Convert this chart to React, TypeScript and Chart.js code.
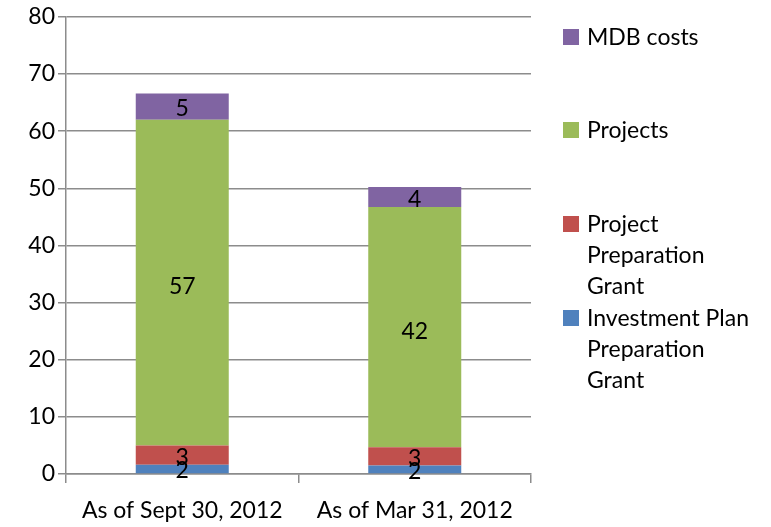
import React, { useEffect, useRef } from "react";
import { Chart, registerables } from "chart.js";

Chart.register(...registerables);

const categories = ["As of Sept 30, 2012", "As of Mar 31, 2012"];
const investmentPlanPrep = [1.6, 1.5];
const projectPrep = [3.4, 3.2];
const projects = [57.0, 42.0];
const mdbCosts = [4.6, 3.5];
const yTicks = [0, 10, 20, 30, 40, 50, 60, 70, 80];

const FONT = "Lato, 'Open Sans', sans-serif";

const legendItems = [
  { lines: ["MDB costs"], color: "#8064A2", y: 37 },
  { lines: ["Projects"], color: "#9BBB59", y: 130 },
  { lines: ["Project", "Preparation", "Grant"], color: "#C0504D", y: 224 },
  { lines: ["Investment Plan", "Preparation", "Grant"], color: "#4F81BD", y: 318 },
];

const labelPlugin = {
  id: "segLabels",
  afterDatasetsDraw(chart: any) {
    const ctx = chart.ctx;
    ctx.save();
    ctx.font = `23px ${FONT}`;
    ctx.fillStyle = "#000";
    ctx.textAlign = "center";
    ctx.textBaseline = "middle";
    chart.data.datasets.forEach((ds: any, i: number) => {
      const meta = chart.getDatasetMeta(i);
      meta.data.forEach((bar: any, j: number) => {
        const v = ds.data[j];
        const h = Math.abs(bar.base - bar.y);
        const y = (bar.y + bar.base) / 2 + (h > 60 ? 4 : 2);
        ctx.fillText(String(Math.round(v)), bar.x, y);
      });
    });
    // legend
    ctx.textAlign = "left";
    legendItems.forEach((it) => {
      ctx.fillStyle = it.color;
      ctx.fillRect(563, it.y - 8, 16, 16);
      ctx.fillStyle = "#000";
      it.lines.forEach((ln, k) => {
        ctx.fillText(ln, 587, it.y + 1 + k * 31);
      });
    });
    ctx.restore();
  },
};

export default function App() {
  const ref = useRef<HTMLCanvasElement>(null);
  useEffect(() => {
    if (!ref.current) return;
    const chart = new Chart(ref.current, {
      type: "bar",
      data: {
        labels: categories,
        datasets: [
          { label: "Investment Plan Preparation Grant", data: investmentPlanPrep, backgroundColor: "#4F81BD" },
          { label: "Project Preparation Grant", data: projectPrep, backgroundColor: "#C0504D" },
          { label: "Projects", data: projects, backgroundColor: "#9BBB59" },
          { label: "MDB costs", data: mdbCosts, backgroundColor: "#8064A2" },
        ],
      },
      options: {
        responsive: false,
        animation: false,
        layout: { padding: { left: 0, right: 240, top: 16, bottom: 0 } },
        datasets: { bar: { categoryPercentage: 1, barPercentage: 0.4 } },
        plugins: { legend: { display: false }, tooltip: { enabled: false } },
        scales: {
          x: {
            stacked: true,
            grid: { display: true, drawOnChartArea: false, offset: true, color: "#8c8c8c", lineWidth: 1.5, tickLength: 9 },
            border: { color: "#8c8c8c", width: 1.5 },
            ticks: { color: "#000", font: { family: FONT, size: 23 }, padding: 14, maxRotation: 0 },
            afterFit: (s: any) => { s.height = 53; },
          },
          y: {
            stacked: true,
            min: 0,
            max: 80,
            afterBuildTicks: (s: any) => { s.ticks = yTicks.map((v) => ({ value: v })); },
            grid: { color: "#8c8c8c", lineWidth: 1.5, tickLength: 8 },
            border: { color: "#8c8c8c", width: 1.5 },
            ticks: { color: "#000", font: { family: FONT, size: 23 }, padding: 3 },
            afterFit: (s: any) => { s.width = 66; },
          },
        },
      },
      plugins: [labelPlugin],
    });
    return () => chart.destroy();
  }, []);
  return (
    <div style={{ position: "fixed", left: 0, top: 0, width: 771, height: 527, background: "#fff" }}>
      <canvas ref={ref} width={771} height={527} style={{ display: "block" }} />
    </div>
  );
}
